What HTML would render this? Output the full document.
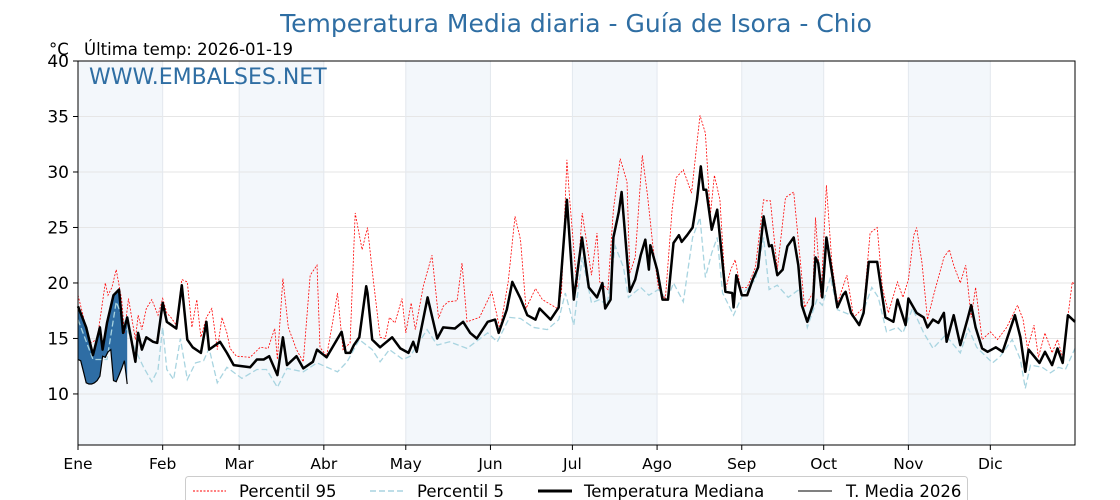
<!DOCTYPE html>
<html><head><meta charset="utf-8">
<style>
html,body{margin:0;padding:0;background:#fff;}
svg{display:block;font-family:"DejaVu Sans","Liberation Sans",sans-serif;}
</style></head>
<body>
<svg id="chart" width="1120" height="500" viewBox="0 0 1120 500">
  <rect x="0" y="0" width="1120" height="500" fill="#fff"/>
  <text x="576" y="32" text-anchor="middle" font-size="25" fill="#2f6ea3">Temperatura Media diaria - Guía de Isora - Chio</text>
  <text x="49" y="55" font-size="16.5" fill="#000">°C</text>
  <text x="84" y="55" font-size="16.5" fill="#000">Última temp: 2026-01-19</text>
  <g id="bands"></g>
  <g id="grid"></g>
  <g id="series"></g>
  <text x="89" y="84" font-size="22" fill="#2f6ea3">WWW.EMBALSES.NET</text>
  <rect x="78" y="61" width="997" height="384" fill="none" stroke="#000" stroke-width="1"/>
  <g id="axes"></g>
  <g>
    <rect x="185.5" y="476.5" width="782" height="40" rx="3" fill="#fff" stroke="#ccc"/>
    <line x1="193" y1="491" x2="226" y2="491" stroke="#f00" stroke-width="1" stroke-dasharray="2,1.5"/>
    <text x="239" y="497" font-size="16.5">Percentil 95</text>
    <line x1="370" y1="491" x2="404" y2="491" stroke="#a8d4e0" stroke-width="1.5" stroke-dasharray="6,3"/>
    <text x="417" y="497" font-size="16.5">Percentil 5</text>
    <line x1="538" y1="491" x2="572" y2="491" stroke="#000" stroke-width="3"/>
    <text x="584" y="497" font-size="16.5">Temperatura Mediana</text>
    <line x1="798" y1="491" x2="832" y2="491" stroke="#000" stroke-width="1"/>
    <text x="846" y="497" font-size="16.5">T. Media 2026</text>
  </g>
</svg>
<script>
const monthLabels=["Ene","Feb","Mar","Abr","May","Jun","Jul","Ago","Sep","Oct","Nov","Dic"];
const monthStartDays=[0,31,59,90,120,151,181,212,243,273,304,334];
const yTicks=[10,15,20,25,30,35,40];
const medDays=[0,3,5.5,8,9,10.6,13,15,16.5,18,21,22,23.4,25,27.5,29,31,32.5,36,38,40,42,45,47,48,52,54.5,57,63,65.5,68,70,73,75,76.5,80,82.5,86,87.5,91,96.5,98,99.6,101,103,105.5,106,107.7,110.6,115,118,121,122.7,124,128,131.5,133.7,138,141,143.6,146,150,152.7,154,157,159,162,164.5,167.5,169,173,176,179,181.5,184.5,187,190,192,193,195,196,198,199,202,204,206,207.7,209,209.5,212,214,216,218,220,221,223,225,226.6,228,229,230,232,234,237,239.5,240,241,243,245,247,249,251,253,254,256,258,259.7,262,263.7,265,267,269,270,271,272.5,274,278,280,281,283,286,287.6,289.5,292.6,295.6,298.5,300,303,304,307,309.6,311,313,315,317,318,320.6,323,325.6,327,328.6,331,333,336,338.5,340,343,345,346.8,348,352,354,356.6,358.6,360.5,362.4,365];
const medVals=[17.9,16.0,13.5,16.0,14.0,16.4,18.9,19.4,15.5,16.9,12.9,15.5,14.0,15.1,14.7,14.6,18.2,16.5,15.9,19.8,14.9,14.2,13.7,16.5,14.0,14.7,13.7,12.6,12.4,13.1,13.1,13.4,11.7,15.1,12.6,13.4,12.3,12.9,14.0,13.3,15.6,13.7,13.7,14.4,15.1,19.7,19.1,14.9,14.2,15.1,14.1,13.7,14.7,13.8,18.7,15.0,16.0,15.9,16.5,15.5,15.0,16.5,16.7,15.5,17.6,20.1,18.6,17.1,16.7,17.7,16.7,17.8,27.5,18.5,24.1,19.6,18.7,20.0,17.7,18.5,24.1,26.4,28.2,19.2,20.3,22.5,23.9,21.2,23.4,21.2,18.5,18.5,23.6,24.3,23.7,24.3,25.0,27.5,30.5,28.4,28.4,24.8,26.6,19.2,19.1,17.8,20.7,18.9,18.9,20.3,21.4,26.0,23.3,23.4,20.7,21.2,23.3,24.1,21.6,18.0,16.5,18.0,22.3,21.8,18.7,24.1,17.8,18.9,19.2,17.3,16.2,17.3,21.9,21.9,16.9,16.5,18.5,16.2,18.6,17.3,16.9,16.0,16.7,16.4,17.3,14.7,17.1,14.4,16.7,18.0,16.0,14.1,13.8,14.2,13.8,14.9,17.1,15.1,12.0,14.0,12.8,13.8,12.6,14.1,12.8,17.1,16.5];
const p95Days=[0,4.4,7,10,11,12.4,14,16,17,18.5,21,22,23.4,25,27,29.3,31,32.5,34,36,38,40,41.7,43.5,45,47,49,51,52.7,54.5,55.7,58,63,66.7,69.6,72,73,75,77,80,82.5,85,87.5,88.6,91,93.4,95,97,99.6,101.5,104,106,108,110.6,112.5,114,116,118.6,120,122,123.5,126.5,129.6,132,133.7,135.5,138.8,140.6,142.4,147,151.5,154.5,157.5,160,162,164,167.5,170,175.5,177,179,180,182.7,184.6,186.4,188,190,191,194,196,198.5,201,202,204,206.6,208.5,210.6,212.5,215,217.5,219,221.6,224.6,227.7,229.7,231.5,233,235,237,239,240.6,242.5,245,248,251,252,253.5,256,259,262,264.5,266,269,270,272,274,276,278,281.5,284,287.6,290,292.6,294.5,296.7,300,302,304,306,307,309,311,313,317,319,320.6,323,325,327,328.6,331,334,336.6,340,344,346,347.6,350,351.6,354,356.6,358.6,360.5,364,365];
const p95Vals=[18.9,14.6,14.9,20.0,18.9,19.6,21.2,18.5,15.5,18.6,14.9,17.1,15.8,17.7,18.5,17.1,18.6,17.3,16.9,16.2,20.3,20.1,16.0,18.5,15.1,16.9,17.7,14.0,16.9,15.5,14.1,13.4,13.3,14.2,14.1,15.9,13.1,20.4,16.0,14.0,12.9,20.7,21.6,14.2,13.4,16.7,19.1,14.0,14.6,26.3,23.0,25.0,20.5,15.1,15.0,16.9,16.4,18.6,15.5,18.2,15.8,19.8,22.5,16.8,17.9,18.3,18.4,21.8,16.5,16.9,19.2,15.8,20.1,26.0,23.9,17.7,19.5,18.5,17.7,19.1,31.1,27.5,19.6,26.3,23.3,20.7,24.5,20.1,19.4,26.6,31.2,29.1,20.9,22.3,31.5,27.9,23.0,19.6,18.5,26.6,29.5,30.2,28.1,35.1,33.5,26.1,29.7,27.5,19.4,21.2,22.1,19.6,19.6,21.4,27.5,27.4,27.4,21.2,27.7,28.2,21.8,17.8,19.1,25.9,18.7,28.8,21.8,18.2,20.7,16.9,17.8,24.5,25.0,19.6,17.3,20.1,18.7,20.3,24.3,25.0,21.8,16.7,18.7,22.3,23.0,21.6,20.0,21.6,16.9,19.6,14.9,15.6,14.9,16.0,18.0,16.7,14.1,16.2,13.3,15.5,13.7,14.9,13.3,20.1,19.8];
const p5Days=[0,5.5,10.6,14,18,21.5,24,27,29.3,31,32.5,35,37.5,40,43,46,48,51,54.5,60,65.5,69,73,76.5,82.5,87.5,95,98.5,103,107.7,110.6,114,119,121.6,127.8,131.5,136,142.4,150,153.5,158,162,166.7,171.8,176,178.4,181.5,184.6,188,191,193.7,196.7,199.7,201.5,206,209,212.5,215.7,218,221.6,225,227.7,229.7,232,234,236,240,243.6,248,251,253,256,260,264.5,267,270.5,272.5,275.5,278,283,286,290.6,293,296,300,302,305.5,309.6,313,317.6,323,326,329,334.8,337.7,342,345,346.8,348.7,353,356,359,361.5,365];
const p5Vals=[16.7,13.1,13.1,18.3,15.8,13.7,12.4,11.1,12.2,16.0,12.2,11.3,15.0,11.3,12.8,13.0,14.1,11.0,12.4,11.4,12.2,12.2,10.6,12.3,12.0,12.8,12.0,12.9,14.9,14.0,12.9,14.0,13.1,13.4,15.8,14.4,14.7,14.1,15.5,14.7,16.9,16.8,16.0,15.8,16.7,19.1,16.2,22.3,18.2,18.5,18.0,23.3,21.4,18.7,19.6,18.9,19.4,18.5,20.0,18.3,24.1,25.9,20.5,22.7,24.1,19.1,17.1,19.1,20.3,24.1,19.4,19.8,18.7,19.5,16.0,18.5,18.0,20.5,17.6,17.1,16.4,19.6,18.7,15.6,16.0,15.5,17.7,15.5,14.1,15.3,13.7,15.9,14.2,12.8,13.4,14.9,13.1,10.5,12.6,12.4,11.9,12.4,12.2,14.1];
const y2026Days=[0,1,2,3,4,5,6,7,8,9,10,11,12,13,14,15,16,17,18];
const y2026Vals=[13.1,13.0,12.0,11.0,10.9,10.9,11.0,11.2,11.6,13.4,13.3,13.8,14.0,11.2,11.1,11.7,12.3,13.0,10.9];

const X0=78,X1=1075,Y0=445,Y1=61,YMIN=5.4,YMAX=40;
const xs=d=>X0+d*(X1-X0)/365;
const ys=v=>Y0-(v-YMIN)*(Y0-Y1)/(YMAX-YMIN);
const NS="http://www.w3.org/2000/svg";
function mk(tag,attrs,parent){const e=document.createElementNS(NS,tag);for(const k in attrs)e.setAttribute(k,attrs[k]);parent.appendChild(e);return e;}
function interp(days,vals,d){for(let i=1;i<days.length;i++){if(d<=days[i]){const t=(d-days[i-1])/(days[i]-days[i-1]);return vals[i-1]+t*(vals[i]-vals[i-1]);}}return vals[vals.length-1];}

const bands=document.getElementById('bands'),grid=document.getElementById('grid'),series=document.getElementById('series'),axes=document.getElementById('axes');
const bounds=monthStartDays.concat([365]);
for(let m=0;m<12;m+=2){
  const r=mk('rect',{x:xs(bounds[m]),y:Y1,width:xs(bounds[m+1])-xs(bounds[m]),height:Y0-Y1,fill:'#f3f7fb'},bands);
  
  
}
yTicks.forEach(v=>{
  const l=mk('line',{x1:X0,x2:X1,y1:ys(v),y2:ys(v),stroke:'#e6e6e6','stroke-width':1},grid);
  
  
  const t=mk('line',{x1:X0-5,x2:X0,y1:ys(v),y2:ys(v),stroke:'#000'},axes);
  
  
  const tx=mk('text',{x:X0-9,y:ys(v)+6,'text-anchor':'end','font-size':17},axes);
  tx.textContent=v;
  
  
});
monthStartDays.forEach((d,i)=>{
  const l=mk('line',{x1:xs(d),x2:xs(d),y1:Y1,y2:Y0,stroke:'#e3e8ee','stroke-width':1},grid);
  
  
  const t=mk('line',{x1:xs(d),x2:xs(d),y1:Y0,y2:Y0+5,stroke:'#000'},axes);
  
  
  const tx=mk('text',{x:xs(d),y:Y0+24,'text-anchor':'middle','font-size':15.5},axes);
  tx.textContent=monthLabels[i];
  
  
});
function pts(days,vals){return days.map((d,i)=>xs(d).toFixed(1)+','+ys(vals[i]).toFixed(1)).join(' ');}
const up=y2026Days.map((d,i)=>xs(d).toFixed(1)+','+ys(y2026Vals[i]).toFixed(1));
const down=y2026Days.slice().reverse().map(d=>xs(d).toFixed(1)+','+ys(interp(medDays,medVals,d)).toFixed(1));
const fill=mk('polygon',{points:up.concat(down).join(' '),fill:'#2e6da4'},series);


const p5=mk('polyline',{points:pts(p5Days,p5Vals),fill:'none',stroke:'#a8d4e0','stroke-width':1.3,'stroke-dasharray':'6,3'},series);


const p95=mk('polyline',{points:pts(p95Days,p95Vals),fill:'none',stroke:'#f00','stroke-width':0.8,'stroke-dasharray':'2,1.5'},series);


const med=mk('polyline',{points:pts(medDays,medVals),fill:'none',stroke:'#000','stroke-width':2.5,'stroke-linejoin':'round'},series);


const l26=mk('polyline',{points:pts(y2026Days,y2026Vals),fill:'none',stroke:'#000','stroke-width':1.2},series);


</script>
</body></html>
